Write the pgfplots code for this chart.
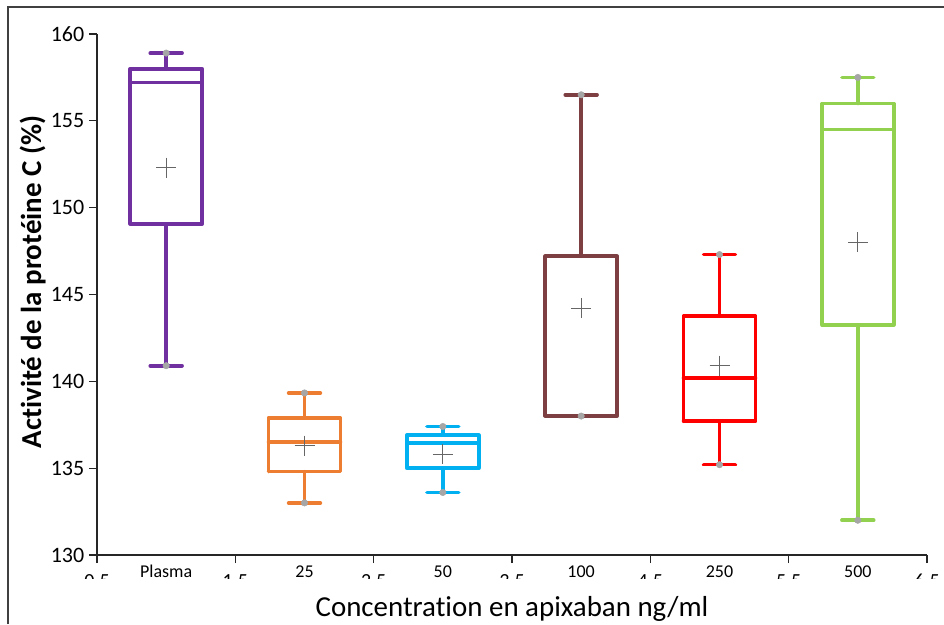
\documentclass[border=0pt]{standalone}
\usepackage{fontspec}
\setmainfont{Carlito}[Ligatures=NoCommon]
\usepackage{pgfplots}
\pgfplotsset{compat=1.18}
\definecolor{cPur}{HTML}{7030A0}
\definecolor{cOra}{HTML}{ED7D31}
\definecolor{cBlu}{HTML}{00B0F0}
\definecolor{cBro}{HTML}{7E3F42}
\definecolor{cRed}{HTML}{FF0000}
\definecolor{cGre}{HTML}{92D050}
\definecolor{cDot}{HTML}{A6A6A6}
\definecolor{cMean}{HTML}{666666}
\pgfplotsset{boxline/.style={line width=2.7pt, line cap=round, line join=round, mark=none, unbounded coords=jump}}
\begin{document}
\begin{tikzpicture}
\useasboundingbox (-72.75pt,-51.75pt) rectangle (635.25pt,416.25pt);
\begin{axis}[
  at={(0,0)}, anchor=south west,
  scale only axis, width=622.5pt, height=390.75pt,
  xmin=0.5, xmax=6.5, ymin=130, ymax=160,
  axis lines*=left,
  axis line style={black!85, line width=0.8pt},
  xtick={0.5,1.5,2.5,3.5,4.5,5.5,6.5}, xticklabels={},
  ytick={130,135,140,145,150,155,160},
  tick align=outside, major tick length=6pt,
  tick style={black!85, line width=0.8pt},
  yticklabel style={font=\fontsize{16.5}{19}\selectfont},
  /pgf/number format/assume math mode=true,
  clip=false,
]
% Plasma: lw 140.9, q1 149.06, med 157.2, q3 158.0, uw 158.9
\addplot[cPur, boxline] coordinates {
  (0.74,149.06) (1.26,149.06) (1.26,158.0) (0.74,158.0) (0.74,149.06) (1,nan)
  (0.74,157.2) (1.26,157.2) (1,nan)
  (1,158.0) (1,158.9) (1,nan)
  (0.885,158.9) (1.115,158.9) (1,nan)
  (1,149.06) (1,140.9) (1,nan)
  (0.885,140.9) (1.115,140.9)};
% 25: lw 133.0, q1 134.8, med 136.5, q3 137.9, uw 139.33
\addplot[cOra, boxline] coordinates {
  (1.74,134.8) (2.26,134.8) (2.26,137.9) (1.74,137.9) (1.74,134.8) (2,nan)
  (1.74,136.5) (2.26,136.5) (2,nan)
  (2,137.9) (2,139.33) (2,nan)
  (1.885,139.33) (2.115,139.33) (2,nan)
  (2,134.8) (2,133.0) (2,nan)
  (1.885,133.0) (2.115,133.0)};
% 50: lw 133.6, q1 135.0, med 136.45, q3 136.9, uw 137.4
\addplot[cBlu, boxline] coordinates {
  (2.74,135.0) (3.26,135.0) (3.26,136.9) (2.74,136.9) (2.74,135.0) (3,nan)
  (2.74,136.45) (3.26,136.45) (3,nan)
  (3,136.9) (3,137.4) (3,nan)
  (2.885,137.4) (3.115,137.4) (3,nan)
  (3,135.0) (3,133.6) (3,nan)
  (2.885,133.6) (3.115,133.6)};
% 100: lw 138.0, q1 138.0, med 138.0, q3 147.2, uw 156.5
\addplot[cBro, boxline] coordinates {
  (3.74,138.0) (4.26,138.0) (4.26,147.2) (3.74,147.2) (3.74,138.0) (4,nan)
  (3.74,138.0) (4.26,138.0) (4,nan)
  (4,147.2) (4,156.5) (4,nan)
  (3.885,156.5) (4.115,156.5)};
% 250: lw 135.2, q1 137.7, med 140.2, q3 143.77, uw 147.3
\addplot[cRed, boxline] coordinates {
  (4.74,137.7) (5.26,137.7) (5.26,143.77) (4.74,143.77) (4.74,137.7) (5,nan)
  (4.74,140.2) (5.26,140.2) (5,nan)
  (5,143.77) (5,147.3) (5,nan)
  (4.885,147.3) (5.115,147.3) (5,nan)
  (5,137.7) (5,135.2) (5,nan)
  (4.885,135.2) (5.115,135.2)};
% 500: lw 132.0, q1 143.25, med 154.5, q3 156.0, uw 157.5
\addplot[cGre, boxline] coordinates {
  (5.74,143.25) (6.26,143.25) (6.26,156.0) (5.74,156.0) (5.74,143.25) (6,nan)
  (5.74,154.5) (6.26,154.5) (6,nan)
  (6,156.0) (6,157.5) (6,nan)
  (5.885,157.5) (6.115,157.5) (6,nan)
  (6,143.25) (6,132.0) (6,nan)
  (5.885,132.0) (6.115,132.0)};
% min / max dots
\addplot[only marks, mark=*, mark size=2.4pt, color=cDot] coordinates {
  (1,140.9) (1,158.9) (2,133.0) (2,139.33) (3,133.6) (3,137.4)
  (4,138.0) (4,156.5) (5,135.2) (5,147.3) (6,132.0) (6,157.5)};
% means
\addplot[only marks, mark=+, mark size=7.5pt, color=cMean, mark options={line width=0.9pt}] coordinates {
  (1,152.3) (2,136.3) (3,135.8) (4,144.2) (5,140.9) (6,148.0)};
% category labels
\node[anchor=base, font=\fontsize{13.5}{16}\selectfont, yshift=-16.5pt] at (axis cs:1,130) {Plasma};
\node[anchor=base, font=\fontsize{13.5}{16}\selectfont, yshift=-16.5pt] at (axis cs:2,130) {25};
\node[anchor=base, font=\fontsize{13.5}{16}\selectfont, yshift=-16.5pt] at (axis cs:3,130) {50};
\node[anchor=base, font=\fontsize{13.5}{16}\selectfont, yshift=-16.5pt] at (axis cs:4,130) {100};
\node[anchor=base, font=\fontsize{13.5}{16}\selectfont, yshift=-16.5pt] at (axis cs:5,130) {250};
\node[anchor=base, font=\fontsize{13.5}{16}\selectfont, yshift=-16.5pt] at (axis cs:6,130) {500};
% numeric tick labels (partly hidden)
\node[anchor=base, font=\fontsize{15}{18}\selectfont, yshift=-24pt] at (axis cs:0.5,130) {0.5};
\node[anchor=base, font=\fontsize{15}{18}\selectfont, yshift=-24pt] at (axis cs:1.5,130) {1.5};
\node[anchor=base, font=\fontsize{15}{18}\selectfont, yshift=-24pt] at (axis cs:2.5,130) {2.5};
\node[anchor=base, font=\fontsize{15}{18}\selectfont, yshift=-24pt] at (axis cs:3.5,130) {3.5};
\node[anchor=base, font=\fontsize{15}{18}\selectfont, yshift=-24pt] at (axis cs:4.5,130) {4.5};
\node[anchor=base, font=\fontsize{15}{18}\selectfont, yshift=-24pt] at (axis cs:5.5,130) {5.5};
\node[anchor=base, font=\fontsize{15}{18}\selectfont, yshift=-24pt] at (axis cs:6.5,130) {6.5};
\end{axis}
\fill[white] (-20pt,-18pt) rectangle (640pt,-32pt);
\node[anchor=base, font=\fontsize{21.7}{26}\selectfont] at (311.25pt,-45.75pt) {Concentration en apixaban ng/ml};
\node[rotate=90, anchor=base, font=\bfseries\fontsize{21.7}{26}\selectfont] at (-42pt,204.75pt) {Activité de la protéine C (\%)};
\draw[black!75, line width=1.2pt] (-66.75pt,-51.75pt) -- (-66.75pt,411pt) -- (635.25pt,411pt);
\end{tikzpicture}
\end{document}
